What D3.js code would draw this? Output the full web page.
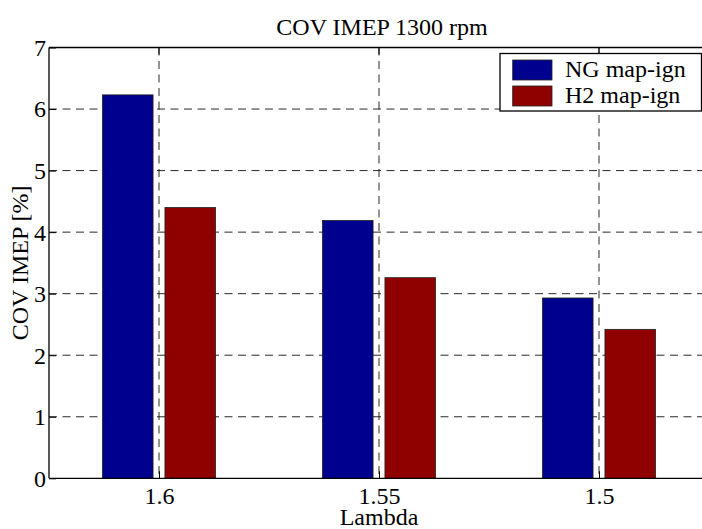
<!DOCTYPE html>
<html>
<head>
<meta charset="utf-8">
<script src="https://cdn.jsdelivr.net/npm/d3@7"></script>
<style>
  html, body { margin: 0; padding: 0; background: #fff; }
  svg { display: block; }
  text { font-family: "Liberation Serif", "Times New Roman", serif; fill: #000; }
</style>
</head>
<body>
<div id="chart"></div>
<script>
// data
const categories = ["1.6", "1.55", "1.5"];
const seriesNames = ["NG map-ign", "H2 map-ign"];
const ngValues = [6.23, 4.19, 2.93];
const h2Values = [4.40, 3.26, 2.42];
const yTicks = [0, 1, 2, 3, 4, 5, 6, 7];
const colors = ["#00008f", "#8f0000"];

const W = 702, H = 529;
const margin = {top: 47.5, left: 49, bottom: 478.3, right: 709};
const fs = 24;

const svg = d3.select("#chart").append("svg")
    .attr("width", W).attr("height", H)
    .attr("viewBox", [0, 0, W, H]);

const x = d3.scaleLinear().domain([0.5, 3.5]).range([margin.left, margin.right]);
const y = d3.scaleLinear().domain([0, 7]).range([margin.bottom, margin.top]);

const barW = 0.23, barOff = 0.142;

// grid (under the bars)
const grid = svg.append("g").attr("stroke", "#111").attr("stroke-width", 0.9)
    .attr("stroke-dasharray", "8,5.5");
grid.selectAll("line.h").data(yTicks.filter(d => d > 0 && d < 7)).join("line")
    .attr("class", "h")
    .attr("x1", margin.left).attr("x2", margin.right)
    .attr("y1", d => y(d)).attr("y2", d => y(d));
grid.selectAll("line.v").data(categories).join("line")
    .attr("class", "v")
    .attr("x1", (d, i) => x(i + 1)).attr("x2", (d, i) => x(i + 1))
    .attr("y1", margin.top).attr("y2", margin.bottom);

// bars
const series = [ngValues, h2Values];
series.forEach((vals, s) => {
    const off = s === 0 ? -barOff : barOff;
    svg.append("g").selectAll("rect").data(vals).join("rect")
        .attr("x", (d, i) => x(i + 1 + off - barW / 2))
        .attr("width", x(barW) - x(0))
        .attr("y", d => y(d))
        .attr("height", d => y(0) - y(d))
        .attr("fill", colors[s])
        .attr("stroke", "#222")
        .attr("stroke-width", 0.8);
});

// axes box
const axG = svg.append("g").attr("stroke", "#000").attr("stroke-width", 1.3).attr("fill", "none");
axG.append("line").attr("x1", margin.left).attr("x2", margin.right).attr("y1", margin.top).attr("y2", margin.top);
axG.append("line").attr("x1", margin.left).attr("x2", margin.right).attr("y1", margin.bottom).attr("y2", margin.bottom);
axG.append("line").attr("x1", margin.left).attr("x2", margin.left).attr("y1", margin.top).attr("y2", margin.bottom);

// y axis (inward ticks)
const yAxis = svg.append("g").attr("transform", `translate(${margin.left},0)`)
    .call(d3.axisLeft(y).tickValues(yTicks).tickFormat(d3.format("d")).tickSizeInner(-7).tickSizeOuter(0).tickPadding(3));
yAxis.select(".domain").remove();
yAxis.selectAll("line").attr("stroke", "#000");
yAxis.selectAll("text").attr("font-size", fs).attr("font-family", "Liberation Serif")
    .attr("x", -3).attr("dy", "0.33em");

// x axis (inward ticks)
const xAxis = svg.append("g").attr("transform", `translate(0,${margin.bottom})`)
    .call(d3.axisBottom(x).tickValues([1, 2, 3]).tickFormat((d) => categories[d - 1]).tickSizeInner(-7).tickSizeOuter(0));
xAxis.select(".domain").remove();
xAxis.selectAll("line").attr("stroke", "#000");
xAxis.selectAll("text").attr("font-size", fs).attr("font-family", "Liberation Serif")
    .attr("y", 25.5).attr("dy", null);

// top ticks
svg.append("g").selectAll("line").data([1, 2, 3]).join("line")
    .attr("x1", d => x(d)).attr("x2", d => x(d))
    .attr("y1", margin.top).attr("y2", margin.top + 7)
    .attr("stroke", "#000");

// labels
svg.append("text").attr("x", 382).attr("y", 35).attr("text-anchor", "middle")
    .attr("font-size", fs).text("COV IMEP 1300 rpm");
svg.append("text").attr("x", x(2)).attr("y", 525).attr("text-anchor", "middle")
    .attr("font-size", fs).text("Lambda");
svg.append("text").attr("transform", `translate(28,${(margin.top + margin.bottom) / 2}) rotate(-90)`)
    .attr("text-anchor", "middle").attr("font-size", fs).text("COV IMEP [%]");

// legend
const lg = svg.append("g").attr("transform", "translate(500,53.5)");
lg.append("rect").attr("width", 201.5).attr("height", 57.5)
    .attr("fill", "#fff").attr("stroke", "#000").attr("stroke-width", 1.3);
seriesNames.forEach((name, i) => {
    lg.append("rect").attr("x", 12.7).attr("y", 6.5 + i * 26).attr("width", 39.3).attr("height", 20)
        .attr("fill", colors[i]).attr("stroke", "#222").attr("stroke-width", 0.8);
    lg.append("text").attr("x", 65).attr("y", 23.3 + i * 26).attr("font-size", fs).text(name);
});
</script>
</body>
</html>
